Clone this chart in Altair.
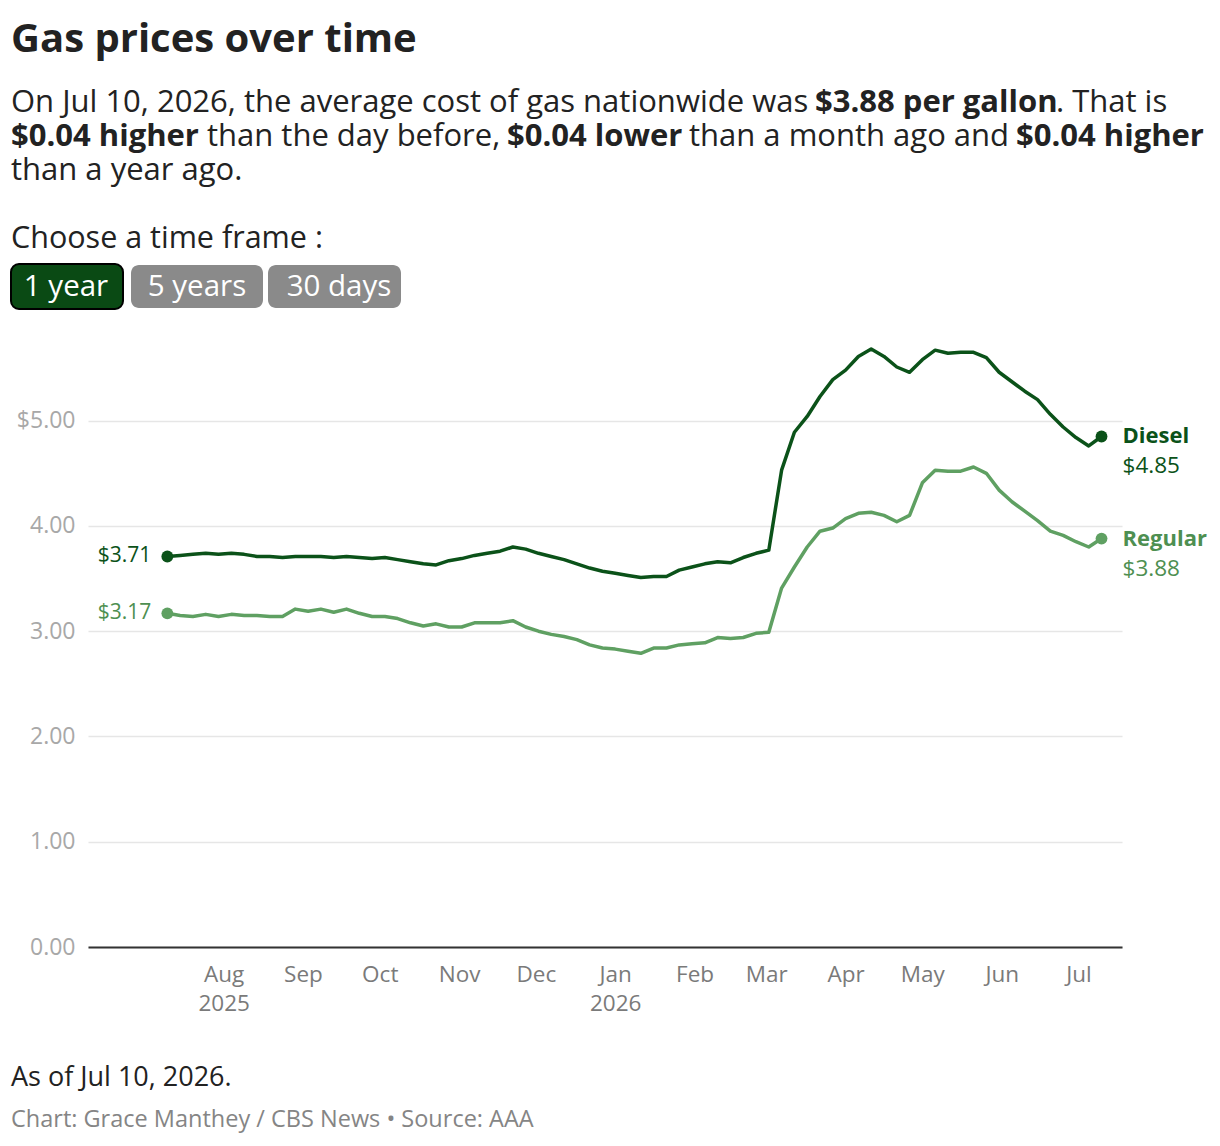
import altair as alt
import pandas as pd

# ---------------- data ----------------
dates = pd.date_range("2025-07-10", periods=74, freq="5D").strftime("%Y-%m-%dT00:00:00").tolist()

diesel = [3.71, 3.72, 3.73, 3.74, 3.73, 3.74, 3.73, 3.71, 3.71, 3.70,
          3.71, 3.71, 3.71, 3.70, 3.71, 3.70, 3.69, 3.70, 3.68, 3.66,
          3.64, 3.63, 3.67, 3.69, 3.72, 3.74, 3.76, 3.80, 3.78, 3.74,
          3.71, 3.68, 3.64, 3.60, 3.57, 3.55, 3.53, 3.51, 3.52, 3.52,
          3.58, 3.61, 3.64, 3.66, 3.65, 3.70, 3.74, 3.77, 4.53, 4.89,
          5.04, 5.23, 5.39, 5.48, 5.61, 5.68, 5.61, 5.51, 5.46, 5.58,
          5.67, 5.64, 5.65, 5.65, 5.60, 5.46, 5.37, 5.28, 5.20, 5.06,
          4.94, 4.84, 4.76, 4.85]

regular = [3.17, 3.15, 3.14, 3.16, 3.14, 3.16, 3.15, 3.15, 3.14, 3.14,
           3.21, 3.19, 3.21, 3.18, 3.21, 3.17, 3.14, 3.14, 3.12, 3.08,
           3.05, 3.07, 3.04, 3.04, 3.08, 3.08, 3.08, 3.10, 3.04, 3.00,
           2.97, 2.95, 2.92, 2.87, 2.84, 2.83, 2.81, 2.79, 2.84, 2.84,
           2.87, 2.88, 2.89, 2.94, 2.93, 2.94, 2.98, 2.99, 3.41, 3.61,
           3.80, 3.95, 3.98, 4.07, 4.12, 4.13, 4.10, 4.04, 4.10, 4.41,
           4.53, 4.52, 4.52, 4.56, 4.50, 4.34, 4.23, 4.14, 4.05, 3.95,
           3.91, 3.85, 3.80, 3.88]

fuels = ["Diesel", "Regular"]
y_ticks = [0, 1, 2, 3, 4, 5]
month_ticks = [(2025, m) for m in range(8, 13)] + [(2026, m) for m in range(1, 8)]

# ---------------- styling ----------------
FONT = "Open Sans"
DIESEL_C = "#0b5219"
REGULAR_C = "#5fa062"
REGULAR_TXT = "#4e8f51"
TEXT_C = "#222222"

series = {"Diesel": diesel, "Regular": regular}
line_colors = {"Diesel": DIESEL_C, "Regular": REGULAR_C}
text_colors = {"Diesel": DIESEL_C, "Regular": REGULAR_TXT}

rows = []
for f in fuels:
    for d, v in zip(dates, series[f]):
        rows.append({"date": d, "price": v, "fuel": f})
df = pd.DataFrame(rows)

xscale = alt.Scale(domain=[alt.DateTime(year=2025, month=6, date=9),
                           alt.DateTime(year=2026, month=7, date=18)])
yscale = alt.Scale(domain=[0, 5.7], nice=False, zero=True)

x_axis = alt.Axis(
    values=[alt.DateTime(year=y, month=m, date=1) for y, m in month_ticks],
    labelExpr="(month(datum.value)==7 || month(datum.value)==0) ? [timeFormat(datum.value,'%b'), timeFormat(datum.value,'%Y')] : timeFormat(datum.value,'%b')",
    title=None, grid=False, ticks=False, domainColor="#333333", domainWidth=2,
    labelColor="#7a7a7a", labelFontSize=22.5, labelFont=FONT, labelPadding=16,
    labelLineHeight=29, labelFlush=False, labelOverlap=False)
y_axis = alt.Axis(
    values=y_ticks,
    labelExpr="datum.value == 5 ? '$5.00' : format(datum.value, '.2f')",
    title=None, domain=False, ticks=False, gridColor="#e6e6e6", gridWidth=1.5,
    labelColor="#a8a8a8", labelFontSize=23, labelFont=FONT, labelPadding=13)

base = alt.Chart(df)

lines = base.mark_line(strokeWidth=3.5, strokeJoin="round", strokeCap="round").encode(
    x=alt.X("date:T", scale=xscale, axis=x_axis),
    y=alt.Y("price:Q", scale=yscale, axis=y_axis),
    color=alt.Color("fuel:N", scale=alt.Scale(domain=fuels, range=[line_colors[f] for f in fuels]), legend=None),
)

layers = [lines]

for f in fuels:
    vals = series[f]
    ends = pd.DataFrame({
        "date": [dates[0], dates[-1]],
        "price": [vals[0], vals[-1]],
        "lab": ["$%.2f" % vals[0], "$%.2f" % vals[-1]],
        "name": [f, f],
        "pos": ["start", "end"],
    })
    c = alt.Chart(ends)
    enc = dict(x=alt.X("date:T", scale=xscale), y=alt.Y("price:Q", scale=yscale))
    layers.append(c.mark_circle(size=140, opacity=1, color=line_colors[f]).encode(**enc))
    layers.append(c.transform_filter("datum.pos == 'start'").mark_text(
        align="right", baseline="middle", dx=-16, dy=0, fontSize=21, font=FONT,
        color=text_colors[f]).encode(text="lab:N", **enc))
    layers.append(c.transform_filter("datum.pos == 'end'").mark_text(
        align="left", baseline="middle", dx=21, dy=0, fontSize=22, font=FONT,
        fontWeight="bold", color=text_colors[f]).encode(text="name:N", **enc))
    layers.append(c.transform_filter("datum.pos == 'end'").mark_text(
        align="left", baseline="middle", dx=21, dy=30, fontSize=22.5, font=FONT,
        color=text_colors[f]).encode(text="lab:N", **enc))

# ---------------- header / footer text (pixel offsets from plot origin 88,347) ----------------
one = pd.DataFrame({"k": [0]})
OX, OY = 88, 347


def txt(s, px, py, size, color=TEXT_C, weight="normal", align="left"):
    return alt.Chart(one).mark_text(
        text=s, align=align, baseline="alphabetic", fontSize=size, font=FONT,
        fontWeight=weight, color=color).encode(x=alt.value(px - OX), y=alt.value(py - OY))


def box(x0, x1, y0, y1, fill, stroke=None):
    kw = dict(fill=fill, cornerRadius=8)
    if stroke:
        kw.update(stroke=stroke, strokeWidth=2)
    return alt.Chart(one).mark_rect(**kw).encode(
        x=alt.value(x0 - OX), x2=alt.value(x1 - OX), y=alt.value(y0 - OY), y2=alt.value(y1 - OY))


S = 31
layers += [
    txt("Gas prices over time", 11, 52, 40, weight="bold"),
    txt("On Jul 10, 2026, the average cost of gas nationwide was", 11, 112, S),
    txt("$3.88 per gallon", 815, 112, S, weight="bold"),
    txt(". That is", 1056, 112, S),
    txt("$0.04 higher", 11, 146, S, weight="bold"),
    txt("than the day before,", 207, 146, S),
    txt("$0.04 lower", 507, 146, S, weight="bold"),
    txt("than a month ago and", 689, 146, S),
    txt("$0.04 higher", 1016, 146, S, weight="bold"),
    txt("than a year ago.", 11, 180, S),
    txt("Choose a time frame :", 11, 248, 30.5),
    box(131, 263, 265, 308, "#8a8a8a"),
    box(268, 401, 265, 308, "#8a8a8a"),
    box(11, 123, 264, 309, "#0a4a14", stroke="#000000"),
    txt("1 year", 66, 296, 29.5, color="#ffffff", align="center"),
    txt("5 years", 197, 296, 29.5, color="#ffffff", align="center"),
    txt("30 days", 339, 296, 29.5, color="#ffffff", align="center"),
    txt("As of Jul 10, 2026.", 11, 1086, 27),
    txt("Chart: Grace Manthey / CBS News \u2022 Source: AAA", 11, 1127, 23.5, color="#858585"),
]

chart = alt.layer(*layers).properties(
    width=1034, height=600,
    autosize=alt.AutoSizeParams(type="none"),
    padding={"left": 88, "top": 347, "right": 98, "bottom": 199},
    background="#ffffff",
).configure_view(stroke=None)

chart.save("out.html", embed_options={"renderer": "svg", "actions": False})
